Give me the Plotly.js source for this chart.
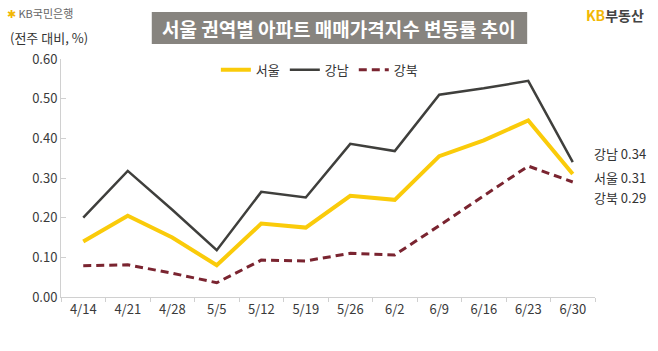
<!DOCTYPE html>
<html>
<head>
<meta charset="utf-8">
<script src="https://cdn.plot.ly/plotly-3.0.1.min.js"></script>
<style>html,body{margin:0;padding:0;background:#fff;}#chart{width:658px;height:351px;}</style>
</head>
<body>
<div id="chart"></div>
<script>
const weeks = ['4/14','4/21','4/28','5/5','5/12','5/19','5/26','6/2','6/9','6/16','6/23','6/30'];
const seoul    = [0.14, 0.205, 0.15, 0.08, 0.185, 0.175, 0.255, 0.245, 0.355, 0.395, 0.445, 0.31];
const gangnam  = [0.20, 0.318, 0.22, 0.118, 0.265, 0.251, 0.386, 0.368, 0.51, 0.526, 0.545, 0.34];
const gangbuk  = [0.079, 0.081, 0.06, 0.036, 0.093, 0.091, 0.11, 0.106, 0.18, 0.255, 0.33, 0.29];
const names = ['서울','강남','강북'];
const endLabels = ['강남 0.34','서울 0.31','강북 0.29'];
const yTicks = [0, 0.1, 0.2, 0.3, 0.4, 0.5, 0.6];

const font = "'Noto Sans CJK KR', 'Noto Sans', sans-serif";

const traces = [
  {x: weeks, y: seoul, name: names[0], type: 'scatter', mode: 'lines',
   line: {color: '#FACB0A', width: 4}},
  {x: weeks, y: gangnam, name: names[1], type: 'scatter', mode: 'lines',
   line: {color: '#3F3F3C', width: 2.5}},
  {x: weeks, y: gangbuk, name: names[2], type: 'scatter', mode: 'lines',
   line: {color: '#7A2430', width: 3, dash: '8px,5px'}}
];

const layout = {
  width: 658, height: 351,
  margin: {l: 61, r: 63, t: 59, b: 54},
  paper_bgcolor: '#fff', plot_bgcolor: '#fff',
  font: {family: font, size: 13, color: '#3a3a3a'},
  showlegend: true,
  legend: {orientation: 'h', x: 0.29, xanchor: 'left', y: 0.955, yanchor: 'middle',
           font: {family: font, size: 13, color: '#333'}, itemwidth: 30, tracegroupgap: 0,
           bgcolor: 'rgba(0,0,0,0)'},
  xaxis: {type: 'category', range: [-0.5, 11.5], showgrid: false, zeroline: false,
          showline: true, linecolor: '#d0d0d0', linewidth: 1,
          ticks: 'outside', ticklen: 4, tickcolor: '#d0d0d0', tickson: 'boundaries',
          tickfont: {family: font, size: 13, color: '#3a3a3a'}, fixedrange: true},
  yaxis: {range: [0, 0.6], tickvals: yTicks, tickformat: '.2f', showgrid: false, zeroline: false,
          showline: true, linecolor: '#d0d0d0', linewidth: 1,
          ticks: 'inside', ticklen: 5, tickcolor: '#d0d0d0',
          tickfont: {family: font, size: 13, color: '#3a3a3a'}, fixedrange: true},
  shapes: [
    {type: 'rect', xref: 'paper', yref: 'paper', x0: 0.170, x1: 0.873, y0: 1.063, y1: 1.197,
     fillcolor: '#87847F', line: {width: 0}, layer: 'below'}
  ],
  annotations: [
    {xref: 'paper', yref: 'paper', x: 0.5215, y: 1.130, xanchor: 'center', yanchor: 'middle',
     text: '<b>서울 권역별 아파트 매매가격지수 변동률 추이</b>', showarrow: false,
     font: {family: font, size: 19, color: '#fff'}},
    {xref: 'paper', yref: 'paper', x: -0.105, y: 1.192, xanchor: 'left', yanchor: 'middle',
     text: '<span style="color:#F2B705">✱</span><span style="color:#666"> KB국민은행</span>', showarrow: false,
     font: {family: font, size: 11, color: '#666'}},
    {xref: 'paper', yref: 'paper', x: -0.100, y: 1.092, xanchor: 'left', yanchor: 'middle',
     text: '(전주 대비, %)', showarrow: false,
     font: {family: font, size: 13, color: '#333'}},
    {xref: 'paper', yref: 'paper', x: 1.095, y: 1.185, xanchor: 'right', yanchor: 'middle',
     text: '<b><span style="color:#F2B705">KB</span>부동산</b>', showarrow: false,
     font: {family: font, size: 14, color: '#444'}},
    {xref: 'paper', yref: 'paper', x: 0.995, y: (297-153)/238, xanchor: 'left', yanchor: 'middle',
     text: endLabels[0], showarrow: false, font: {family: font, size: 13, color: '#333'}},
    {xref: 'paper', yref: 'paper', x: 0.995, y: (297-177)/238, xanchor: 'left', yanchor: 'middle',
     text: endLabels[1], showarrow: false, font: {family: font, size: 13, color: '#333'}},
    {xref: 'paper', yref: 'paper', x: 0.995, y: (297-198)/238, xanchor: 'left', yanchor: 'middle',
     text: endLabels[2], showarrow: false, font: {family: font, size: 13, color: '#333'}}
  ]
};

Plotly.newPlot('chart', traces, layout, {displayModeBar: false, staticPlot: true});
</script>
</body>
</html>
